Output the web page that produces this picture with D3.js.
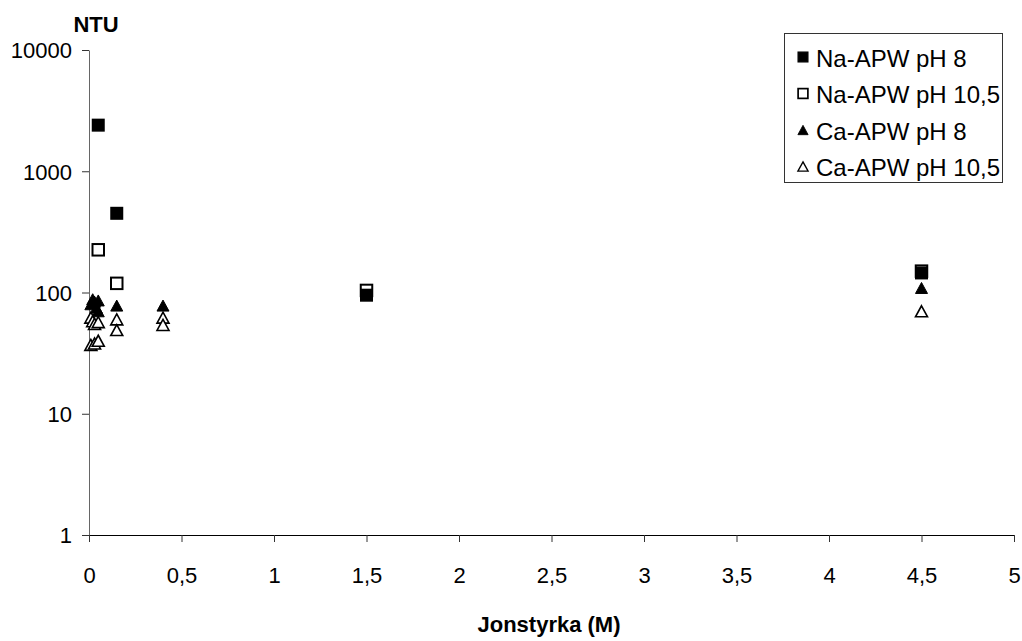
<!DOCTYPE html>
<html>
<head>
<meta charset="utf-8">
<script src="https://cdn.jsdelivr.net/npm/d3@7/dist/d3.min.js"></script>
<style>
  html, body { margin: 0; padding: 0; background: #fff; }
  svg { display: block; font-family: "Liberation Sans", Arial, sans-serif; }
</style>
</head>
<body>
<svg id="chart" width="1022" height="641"></svg>
<script>
// Turbidity (NTU) versus ionic strength (M)
const seriesNames = ["Na-APW pH 8", "Na-APW pH 10,5", "Ca-APW pH 8", "Ca-APW pH 10,5"];

const naPh8 = [[0.05, 2400], [0.15, 450], [1.5, 95], [4.5, 145]];
const naPh105 = [[0.05, 225], [0.15, 119], [1.5, 104], [4.5, 150]];
const caPh8 = [[0.01, 80], [0.02, 88], [0.03, 84], [0.04, 75], [0.05, 86], [0.05, 70],
               [0.15, 78], [0.4, 78], [4.5, 109]];
const caPh105 = [[0.01, 62], [0.02, 58], [0.03, 55], [0.05, 57], [0.01, 37], [0.03, 38],
                 [0.05, 40], [0.15, 60], [0.15, 49], [0.4, 62], [0.4, 54], [4.5, 70]];

const xTicks = [0, 0.5, 1, 1.5, 2, 2.5, 3, 3.5, 4, 4.5, 5];
const yTicks = [1, 10, 100, 1000, 10000];

const svg = d3.select("#chart");
const x = d3.scaleLinear().domain([0, 5]).range([89, 1014]);
const y = d3.scaleLog().domain([1, 10000]).range([535, 50]);

const commaFmt = d => String(d).replace(".", ",");

// y axis
const gy = svg.append("g").attr("transform", `translate(${x(0)},0)`)
  .call(d3.axisLeft(y).tickValues(yTicks).tickFormat(d3.format("d")).tickSize(7).tickSizeOuter(0).tickPadding(10));
gy.select(".domain").attr("stroke", "#666");
gy.selectAll(".tick line").attr("stroke", "#333");
gy.selectAll("text").attr("font-size", 22).attr("fill", "#000")
  .attr("font-family", "Liberation Sans, Arial, sans-serif").attr("dy", "0.36em");

// x axis
const gx = svg.append("g").attr("transform", `translate(0,${y(1)})`)
  .call(d3.axisBottom(x).tickValues(xTicks).tickFormat(commaFmt).tickSize(7).tickSizeOuter(0).tickPadding(25));
gx.select(".domain").attr("stroke", "#000");
gx.selectAll(".tick line").attr("stroke", "#333");
gx.selectAll("text").attr("font-size", 22).attr("fill", "#000")
  .attr("font-family", "Liberation Sans, Arial, sans-serif");

// axis titles
svg.append("text").attr("x", 96).attr("y", 32).attr("text-anchor", "middle")
  .attr("font-size", 22).attr("font-weight", "bold").text("NTU");
svg.append("text").attr("x", 549).attr("y", 632).attr("text-anchor", "middle")
  .attr("font-size", 22).attr("font-weight", "bold").text("Jonstyrka (M)");

// marker shapes
const S = 13;
function square(g, filled) {
  return g.append("rect").attr("x", -S / 2 + 0.75).attr("y", -S / 2 + 0.75)
    .attr("width", S - 1.5).attr("height", S - 1.5)
    .attr("fill", filled ? "#000" : "#fff").attr("stroke", "#000").attr("stroke-width", filled ? 1.5 : 2);
}
function triangle(g, filled) {
  const w = 12, h = 11;
  return g.append("path").attr("d", `M0,${-h / 2}L${w / 2},${h / 2}L${-w / 2},${h / 2}Z`)
    .attr("fill", filled ? "#000" : "#fff").attr("stroke", "#000").attr("stroke-width", filled ? 1 : 1.6)
    .attr("stroke-linejoin", "miter");
}
const markers = [
  d => square(d, false),
  d => square(d, true),
  d => triangle(d, false),
  d => triangle(d, true)
];

// draw order: open squares, filled squares, open triangles, filled triangles
const layers = [
  { data: naPh105, draw: markers[0] },
  { data: naPh8, draw: markers[1] },
  { data: caPh105, draw: markers[2] },
  { data: caPh8, draw: markers[3] }
];
layers.forEach(l => {
  const g = svg.append("g");
  l.data.forEach(([xv, yv]) => {
    const m = g.append("g").attr("transform", `translate(${x(xv)},${y(yv)})`);
    l.draw(m);
  });
});

// legend
const legend = svg.append("g");
legend.append("rect").attr("x", 784.5).attr("y", 33.5).attr("width", 218).attr("height", 149)
  .attr("fill", "#fff").attr("stroke", "#333").attr("stroke-width", 1);
const legendMarkers = [markers[1], markers[0], markers[3], markers[2]];
seriesNames.forEach((name, i) => {
  const cy = 58 + i * 36.5;
  const m = legend.append("g").attr("transform", `translate(803,${cy - 1}) scale(0.85)`);
  legendMarkers[i](m);
  legend.append("text").attr("x", 816).attr("y", cy).attr("dy", "0.36em")
    .attr("font-size", 24).text(name);
});
</script>
</body>
</html>
